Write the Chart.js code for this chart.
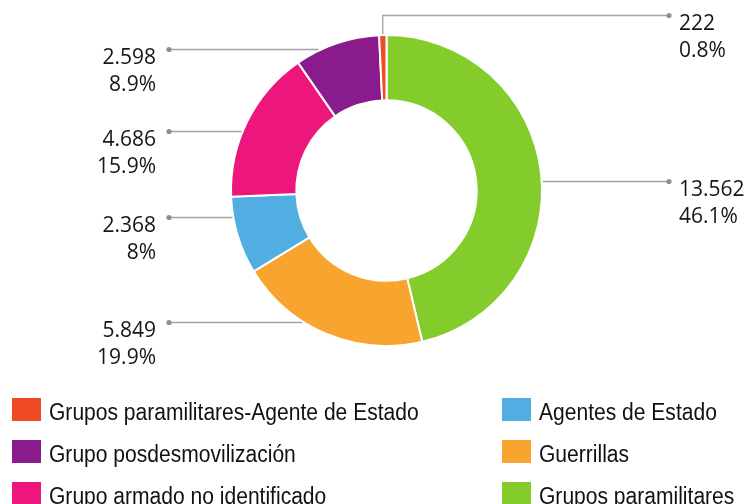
<!DOCTYPE html>
<html>
<head>
<meta charset="utf-8">
<script src="https://cdn.jsdelivr.net/npm/chart.js@4.4.1/dist/chart.umd.min.js"></script>
<style>
  html, body { margin: 0; padding: 0; background: #fff; }
  #wrap { width: 749px; height: 504px; }
</style>
</head>
<body>
<div id="wrap"><canvas id="c" width="749" height="504"></canvas></div>
<script>
// ---- data ----
const categories = [
  'Grupos paramilitares',
  'Guerrillas',
  'Agentes de Estado',
  'Grupo armado no identificado',
  'Grupo posdesmovilización',
  'Grupos paramilitares-Agente de Estado'
];
const counts = [13562, 5849, 2368, 4686, 2598, 222];
const countLabels = ['13.562', '5.849', '2.368', '4.686', '2.598', '222'];
const percentLabels = ['46.1%', '19.9%', '8%', '15.9%', '8.9%', '0.8%'];
const sliceColors = ['#83CC2B', '#F7A52F', '#52ADE2', '#EC167D', '#8A1B8C', '#F04A24'];

// legend order: column-major, reverse of data order
const legendOrder = [5, 4, 3, 2, 1, 0];

// ---- layout for leader labels (side, vertical offset from centre) ----
const labelLayout = [
  { side: 'right', dy: -9 },
  { side: 'left', dy: 132 },
  { side: 'left', dy: 27 },
  { side: 'left', dy: -59 },
  { side: 'left', dy: -141 },
  { side: 'right', elbow: true, dy: -175 }
];

const leaderPlugin = {
  id: 'leaders',
  afterDatasetsDraw(chart) {
    const ctx = chart.ctx;
    const meta = chart.getDatasetMeta(0);
    const leftX = 169, rightX = 669;
    ctx.save();
    meta.data.forEach((arc, i) => {
      const p = arc.getProps(['x', 'y', 'startAngle', 'endAngle', 'outerRadius'], true);
      const L = labelLayout[i];
      const cx = p.x, cy = p.y, R = p.outerRadius + 1;
      const y = cy + L.dy;
      const dotX = L.side === 'left' ? leftX : rightX;
      ctx.strokeStyle = '#a3a3a3';
      ctx.lineWidth = 1.3;
      ctx.beginPath();
      if (L.elbow) {
        const mid = (p.startAngle + p.endAngle) / 2;
        const ex = cx + Math.cos(mid) * R;
        const ey = cy + Math.sin(mid) * R;
        ctx.moveTo(ex, ey);
        ctx.lineTo(ex, y);
        ctx.lineTo(dotX, y);
      } else {
        const dx = Math.sqrt(Math.max(R * R - L.dy * L.dy, 0));
        const ex = L.side === 'left' ? cx - dx : cx + dx;
        ctx.moveTo(ex, y);
        ctx.lineTo(dotX, y);
      }
      ctx.stroke();
      ctx.fillStyle = '#8f8f8f';
      ctx.beginPath();
      ctx.arc(dotX, y, 2.6, 0, Math.PI * 2);
      ctx.fill();

      ctx.fillStyle = '#161616';
      ctx.font = '21px "Open Sans"';
      ctx.textBaseline = 'alphabetic';
      let tx;
      if (L.side === 'left') { ctx.textAlign = 'right'; tx = leftX - 13; }
      else { ctx.textAlign = 'left'; tx = rightX + 10; }
      ctx.fillText(countLabels[i], tx, y + 14);
      ctx.fillText(percentLabels[i], tx, y + 41);
    });
    ctx.restore();
  }
};

const legendPlugin = {
  id: 'customLegend',
  afterDraw(chart) {
    const ctx = chart.ctx;
    const colX = [12, 502];
    const rowTop = [398, 440, 482];
    ctx.save();
    legendOrder.forEach((idx, k) => {
      const col = Math.floor(k / 3), row = k % 3;
      const x = colX[col], y = rowTop[row];
      ctx.fillStyle = chart.data.datasets[0].backgroundColor[idx];
      ctx.fillRect(x, y, 29, 23);
      ctx.save();
      ctx.translate(x + 37, y + 22);
      ctx.scale(0.915, 1);
      ctx.fillStyle = '#111';
      ctx.font = '23px "Liberation Sans"';
      ctx.textAlign = 'left';
      ctx.textBaseline = 'alphabetic';
      ctx.fillText(chart.data.labels[idx], 0, 0);
      ctx.restore();
    });
    ctx.restore();
  }
};

new Chart(document.getElementById('c'), {
  type: 'doughnut',
  data: {
    labels: categories,
    datasets: [{
      data: counts,
      backgroundColor: sliceColors,
      borderColor: '#ffffff',
      borderWidth: 2,
      hoverOffset: 0
    }]
  },
  options: {
    responsive: false,
    animation: false,
    cutout: '58%',
    rotation: 0,
    layout: { padding: { left: 230, right: 206, top: 34, bottom: 157 } },
    plugins: {
      legend: { display: false },
      tooltip: { enabled: false }
    }
  },
  plugins: [leaderPlugin, legendPlugin]
});
</script>
</body>
</html>
